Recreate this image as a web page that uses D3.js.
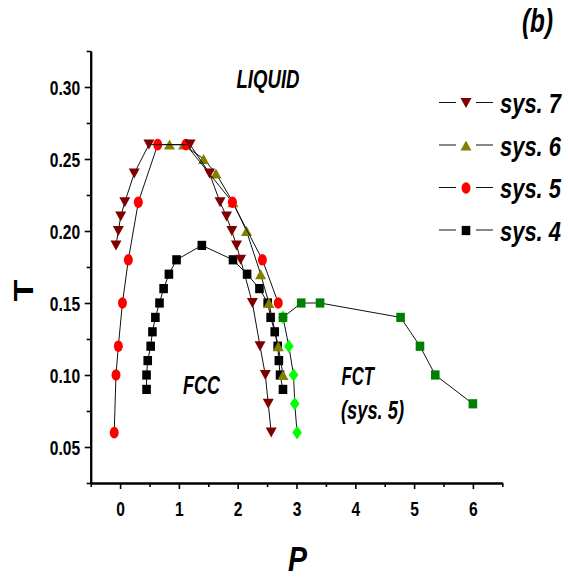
<!DOCTYPE html>
<html>
<head>
<meta charset="utf-8">
<script src="https://cdn.jsdelivr.net/npm/d3@7"></script>
<style>
  body { margin: 0; background: #fff; }
  svg { display: block; }
  text { font-family: "Liberation Sans", Arial, sans-serif; font-weight: bold; fill: #000; }
</style>
</head>
<body>
<svg id="chart" width="568" height="577"></svg>
<script>
// phase boundaries, [P, T] pairs
const sys7 = [[-0.07, 0.19], [-0.03, 0.20], [0.01, 0.21], [0.08, 0.22], [0.24, 0.24], [0.49, 0.26],
  [1.19, 0.26], [1.52, 0.24], [1.70, 0.22], [1.81, 0.21], [1.90, 0.20], [1.98, 0.19], [2.05, 0.18],
  [2.25, 0.15], [2.38, 0.12], [2.47, 0.10], [2.52, 0.08], [2.57, 0.06]];
const sys6 = [[0.84, 0.26], [1.08, 0.26], [1.42, 0.25], [1.63, 0.24], [1.92, 0.22], [2.15, 0.20],
  [2.39, 0.17], [2.53, 0.15], [2.69, 0.12], [2.77, 0.10]];
const sys5 = [[-0.10, 0.06], [-0.07, 0.10], [-0.03, 0.12], [0.04, 0.15], [0.14, 0.18], [0.31, 0.22],
  [0.64, 0.26], [1.12, 0.26], [1.91, 0.22], [2.42, 0.18], [2.69, 0.15]];
const sys4 = [[0.45, 0.09], [0.45, 0.10], [0.47, 0.11], [0.52, 0.12], [0.55, 0.13], [0.60, 0.14],
  [0.67, 0.15], [0.74, 0.16], [0.83, 0.17], [0.96, 0.18], [1.39, 0.19], [1.92, 0.18], [2.16, 0.17],
  [2.37, 0.16], [2.51, 0.15], [2.56, 0.14], [2.63, 0.13], [2.68, 0.12], [2.70, 0.11], [2.72, 0.10],
  [2.77, 0.09]];
const fctMelt = [[2.77, 0.14], [3.08, 0.15], [3.40, 0.15], [4.77, 0.14], [5.10, 0.12], [5.36, 0.10],
  [6.00, 0.08]];
const fctFcc = [[2.77, 0.14], [2.87, 0.12], [2.95, 0.10], [2.97, 0.08], [3.01, 0.06]];

const xTicks = [0, 1, 2, 3, 4, 5, 6];
const yTicks = [0.05, 0.10, 0.15, 0.20, 0.25, 0.30];
const legendNames = ["sys. 7", "sys. 6", "sys. 5", "sys. 4"];

const svg = d3.select("#chart");
const mLeft = 90.7, mRight = 502.3, mTop = 51, mBottom = 483;

const x = d3.scaleLinear().domain([-0.5, 6.5]).range([mLeft, mRight]);
const y = d3.scaleLinear().domain([0.025, 0.325]).range([mBottom, mTop]);

// marker shapes, centred on 0,0
const shapes = {
  down: g => g.append("path").attr("d", "M-5.5,-5L5.5,-5L0,5Z"),
  up: g => g.append("path").attr("d", "M-5.5,5L5.5,5L0,-5Z"),
  circle: g => g.append("ellipse").attr("rx", 4.5).attr("ry", 5.8),
  square: g => g.append("rect").attr("x", -4.3).attr("y", -4.6).attr("width", 8.6).attr("height", 9.2),
  diamond: g => g.append("path").attr("d", "M0,-6.8L4.8,0L0,6.8L-4.8,0Z")
};

const series = [
  { data: fctFcc, shape: "diamond", color: "#00ff00" },
  { data: fctMelt, shape: "square", color: "#008000" },
  { data: sys4, shape: "square", color: "#000000" },
  { data: sys6, shape: "up", color: "#808000" },
  { data: sys5, shape: "circle", color: "#ff0000" },
  { data: sys7, shape: "down", color: "#800000" }
];

const line = d3.line().x(d => x(d[0])).y(d => y(d[1]));

series.forEach(s => {
  const g = svg.append("g");
  g.append("path").attr("d", line(s.data))
    .attr("fill", "none").attr("stroke", "#111").attr("stroke-width", 1);
  g.selectAll("g.pt").data(s.data).enter().append("g")
    .attr("class", "pt")
    .attr("transform", d => `translate(${x(d[0])},${y(d[1])})`)
    .each(function () { shapes[s.shape](d3.select(this)).attr("fill", s.color); });
});

// axes
const xAxis = d3.axisBottom(x).tickValues(xTicks).tickSize(6).tickSizeOuter(0).tickFormat(d3.format("d"));
const xMinor = d3.axisBottom(x).tickValues(d3.range(-0.5, 6.6, 1)).tickSize(4).tickSizeOuter(0).tickFormat("");
const yAxis = d3.axisLeft(y).tickValues(yTicks).tickSize(6).tickSizeOuter(0).tickFormat(d3.format(".2f"));
const yMinor = d3.axisLeft(y).tickValues(d3.range(0.025, 0.33, 0.05)).tickSize(4).tickSizeOuter(0).tickFormat("");

function styleAxis(g) {
  g.select(".domain").attr("stroke", "#000").attr("stroke-width", 2);
  g.selectAll(".tick line").attr("stroke", "#000").attr("stroke-width", 1.6);
}

svg.append("g").attr("transform", `translate(0,${mBottom})`).call(xMinor).call(styleAxis);
const gx = svg.append("g").attr("transform", `translate(0,${mBottom})`).call(xAxis).call(styleAxis);
gx.selectAll(".tick text")
  .attr("x", 0).attr("y", 33).attr("dy", 0)
  .attr("font-size", 20).attr("font-family", null)
  .attr("transform", "scale(0.78,1)");

svg.append("g").attr("transform", `translate(${mLeft},0)`).call(yMinor).call(styleAxis);
const gy = svg.append("g").attr("transform", `translate(${mLeft},0)`).call(yAxis).call(styleAxis);
gy.selectAll(".tick text")
  .attr("x", -10.5 / 0.78).attr("dy", "0.36em")
  .attr("font-size", 20).attr("font-family", null)
  .attr("transform", "scale(0.78,1)");

// text helper: bold lettering squeezed sideways to the wanted width
function label(txt, px, py, size, len, italic) {
  const t = svg.append("text")
    .attr("font-size", size)
    .attr("font-style", italic ? "italic" : "normal")
    .text(txt);
  const sx = len / t.node().getComputedTextLength();
  t.attr("transform", `translate(${px},${py}) scale(${sx},1)`);
  return t;
}

label("LIQUID", 236.5, 88, 26, 63, true);
label("FCC", 183, 394, 26, 37, true);
label("FCT", 341.5, 385, 26, 32.5, true);
label("(sys. 5)", 341, 419, 26, 63, true);
label("(b)", 522, 31.5, 33, 31, true);
label("P", 288, 570.5, 36, 19, true);

svg.append("text")
  .attr("transform", "translate(33,290.5) scale(0.775,1) rotate(-90)")
  .attr("text-anchor", "middle")
  .attr("font-size", 36)
  .text("T");

// legend
const legendShapes = [["down", "#800000"], ["up", "#808000"], ["circle", "#ff0000"], ["square", "#000000"]];
legendNames.forEach((name, i) => {
  const yc = 102.5 + i * 42.5;
  const g = svg.append("g");
  g.append("line").attr("x1", 439).attr("x2", 456).attr("y1", yc).attr("y2", yc)
    .attr("stroke", "#111").attr("stroke-width", 1);
  g.append("line").attr("x1", 476).attr("x2", 493).attr("y1", yc).attr("y2", yc)
    .attr("stroke", "#111").attr("stroke-width", 1);
  const m = g.append("g").attr("transform", `translate(466,${yc + 0.5})`);
  shapes[legendShapes[i][0]](m).attr("fill", legendShapes[i][1]);
  label(name, 500, yc + 10.5, 28, 61, true);
});
</script>
</body>
</html>
